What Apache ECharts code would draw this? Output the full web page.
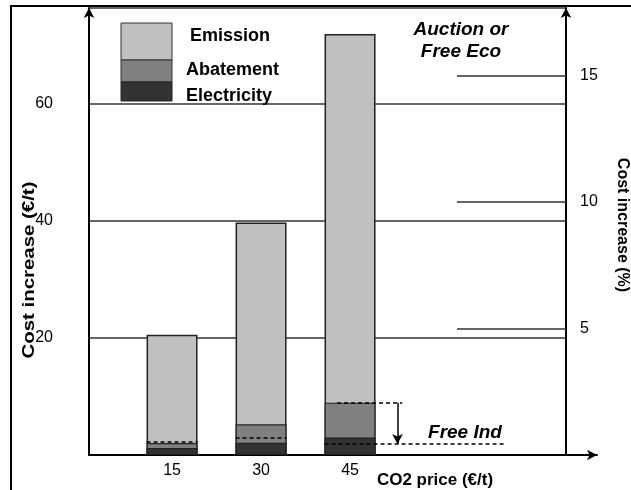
<!DOCTYPE html>
<html>
<head>
<meta charset="utf-8">
<script src="https://cdn.jsdelivr.net/npm/echarts@6/dist/echarts.min.js"></script>
<style>html,body{margin:0;padding:0;background:#fff;}#c{width:631px;height:490px;}</style>
</head>
<body>
<div id="c"></div>
<script>
// ---- data ----
const co2Prices = [15, 30, 45];
const electricity = [1.2, 2.1, 3.0];
const abatement = [0.85, 3.15, 5.95];
const emission = [18.5, 34.5, 63.0];
const freeInd = [2.2, 2.95, 1.9];          // "Free Ind" cost level per bar
const freeIndLineEnd = 71;                  // CO2 price where the 45 Free Ind line ends
const arrowPrice = 53;                      // CO2 price position of the arrow
const leftTicks = [20, 40, 60];
const rightTicks = [5, 10, 15];

// ---- layout ----
const FONT = '"Liberation Sans", Arial, sans-serif';
const X_MIN = 1, X_MAX = 81.4;
const GRID = {left: 89, right: 65, top: 8, bottom: 35};
const plotW = 631 - GRID.left - GRID.right;
const pxPerUnit = plotW / (X_MAX - X_MIN);
const BAR_W = 51;
const halfBar = (BAR_W / 2) / pxPerUnit;

// cumulative tops (drawn as overlapping bars, largest first)
const cumElec = electricity.slice();
const cumAbat = electricity.map((v, i) => v + abatement[i]);
const cumTotal = cumAbat.map((v, i) => v + emission[i]);
const pts = arr => co2Prices.map((p, i) => [p, arr[i]]);

const dashed = {type: [4, 3], color: '#000', width: 1.5};
const mlData = [];
co2Prices.forEach((p, i) => {
  const end = (i === co2Prices.length - 1) ? freeIndLineEnd : p + halfBar;
  mlData.push([{coord: [p - halfBar, freeInd[i]]}, {coord: [end, freeInd[i]]}]);
});
const last = co2Prices.length - 1;
const topAbat = cumAbat[last];
mlData.push([{coord: [co2Prices[last] - 2.2, topAbat]}, {coord: [arrowPrice + 0.8, topAbat]}]);
mlData.push([
  {coord: [arrowPrice, topAbat], symbol: 'none', lineStyle: {type: 'solid', color: '#000', width: 1.5}},
  {coord: [arrowPrice, freeInd[last]], symbol: 'arrow', symbolSize: [8, 10]}
]);

const barCommon = {
  type: 'bar', xAxisIndex: 0, yAxisIndex: 0, barWidth: BAR_W, barGap: '-100%',
  silent: true
};

const chart = echarts.init(document.getElementById('c'), null, {renderer: 'canvas'});
chart.setOption({
  animation: false,
  backgroundColor: '#fff',
  grid: [
    Object.assign({}, GRID),
    {left: 89, right: 34, top: 8, bottom: 35}
  ],
  xAxis: [
    {
      type: 'value', gridIndex: 0, min: X_MIN, max: X_MAX,
      axisLine: {show: false}, axisTick: {show: false}, splitLine: {show: false},
      axisLabel: {customValues: co2Prices, fontSize: 16, color: '#000', fontFamily: FONT, margin: 8}
    },
    {
      type: 'value', gridIndex: 1, min: 0, max: 1,
      axisLine: {show: true, symbol: ['none', 'arrow'], symbolSize: [8, 10], lineStyle: {color: '#000', width: 2}},
      axisTick: {show: false}, axisLabel: {show: false}, splitLine: {show: false}
    }
  ],
  yAxis: [
    {
      type: 'value', gridIndex: 0, position: 'left', min: 0, max: 447 / 5.85, interval: 20,
      axisLine: {show: true, symbol: ['none', 'arrow'], symbolSize: [8, 10], lineStyle: {color: '#000', width: 2}},
      axisTick: {show: false},
      axisLabel: {customValues: leftTicks, fontSize: 16, color: '#000', fontFamily: FONT, margin: 36},
      splitLine: {show: true, lineStyle: {color: '#333', width: 1.5}}
    },
    {
      type: 'value', gridIndex: 0, position: 'right', min: 0, max: 447 / 25.3, interval: 5,
      axisLine: {show: true, symbol: ['none', 'arrow'], symbolSize: [8, 10], lineStyle: {color: '#000', width: 2}},
      axisTick: {show: true, inside: true, length: 109, customValues: rightTicks, lineStyle: {color: '#333', width: 1.5}},
      axisLabel: {customValues: rightTicks, fontSize: 16, color: '#000', fontFamily: FONT, margin: 14},
      splitLine: {show: false}
    },
    {type: 'value', gridIndex: 1, min: 0, max: 1, show: false}
  ],
  series: [
    Object.assign({}, barCommon, {name: 'Emission', data: pts(cumTotal), z: 2,
      itemStyle: {color: '#c0c0c0', borderColor: '#222', borderWidth: 1.5}}),
    Object.assign({}, barCommon, {name: 'Abatement', data: pts(cumAbat), z: 3,
      itemStyle: {color: '#808080', borderColor: '#222', borderWidth: 1.2}}),
    Object.assign({}, barCommon, {name: 'Electricity', data: pts(cumElec), z: 4,
      itemStyle: {color: '#333333', borderColor: '#222', borderWidth: 1.2}}),
    {
      type: 'line', xAxisIndex: 0, yAxisIndex: 0, data: [], silent: true, z: 10,
      markLine: {silent: true, symbol: ['none', 'none'], label: {show: false}, lineStyle: dashed, data: mlData, z: 10}
    }
  ],
  graphic: [
    {type: 'rect', shape: {x: 11, y: 6, width: 700, height: 600}, style: {fill: 'none', stroke: '#000', lineWidth: 2}, z: 100},
    {type: 'rect', shape: {x: 121, y: 23, width: 51, height: 37}, style: {fill: '#c0c0c0', stroke: '#333', lineWidth: 1}, z: 100},
    {type: 'rect', shape: {x: 121, y: 60, width: 51, height: 22}, style: {fill: '#808080', stroke: '#333', lineWidth: 1}, z: 100},
    {type: 'rect', shape: {x: 121, y: 82, width: 51, height: 19}, style: {fill: '#333333', stroke: '#222', lineWidth: 1}, z: 100},
    {type: 'text', x: 190, y: 36, style: {text: 'Emission', font: 'bold 18px ' + FONT, fill: '#000', textVerticalAlign: 'middle'}, z: 100},
    {type: 'text', x: 186, y: 70, style: {text: 'Abatement', font: 'bold 18px ' + FONT, fill: '#000', textVerticalAlign: 'middle'}, z: 100},
    {type: 'text', x: 186, y: 96, style: {text: 'Electricity', font: 'bold 18px ' + FONT, fill: '#000', textVerticalAlign: 'middle'}, z: 100},
    {type: 'text', x: 461, y: 41, style: {text: 'Auction or\nFree Eco', font: 'italic bold 19px ' + FONT, lineHeight: 22, fill: '#000', textAlign: 'center', textVerticalAlign: 'middle'}, z: 100},
    {type: 'text', x: 465, y: 433, style: {text: 'Free Ind', font: 'italic bold 19px ' + FONT, fill: '#000', textAlign: 'center', textVerticalAlign: 'middle'}, z: 100},
    {type: 'text', x: 435, y: 480, style: {text: 'CO2 price (€/t)', font: 'bold 17px ' + FONT, fill: '#000', textAlign: 'center', textVerticalAlign: 'middle'}, z: 100},
    {type: 'text', x: 29, y: 270, rotation: Math.PI / 2, scaleX: 1.2, style: {text: 'Cost increase (€/t)', font: 'bold 17px ' + FONT, fill: '#000', textAlign: 'center', textVerticalAlign: 'middle'}, z: 100},
    {type: 'text', x: 622, y: 225, rotation: -Math.PI / 2, style: {text: 'Cost increase (%)', font: 'bold 16px ' + FONT, fill: '#000', textAlign: 'center', textVerticalAlign: 'middle'}, z: 100}
  ]
});
</script>
</body>
</html>
